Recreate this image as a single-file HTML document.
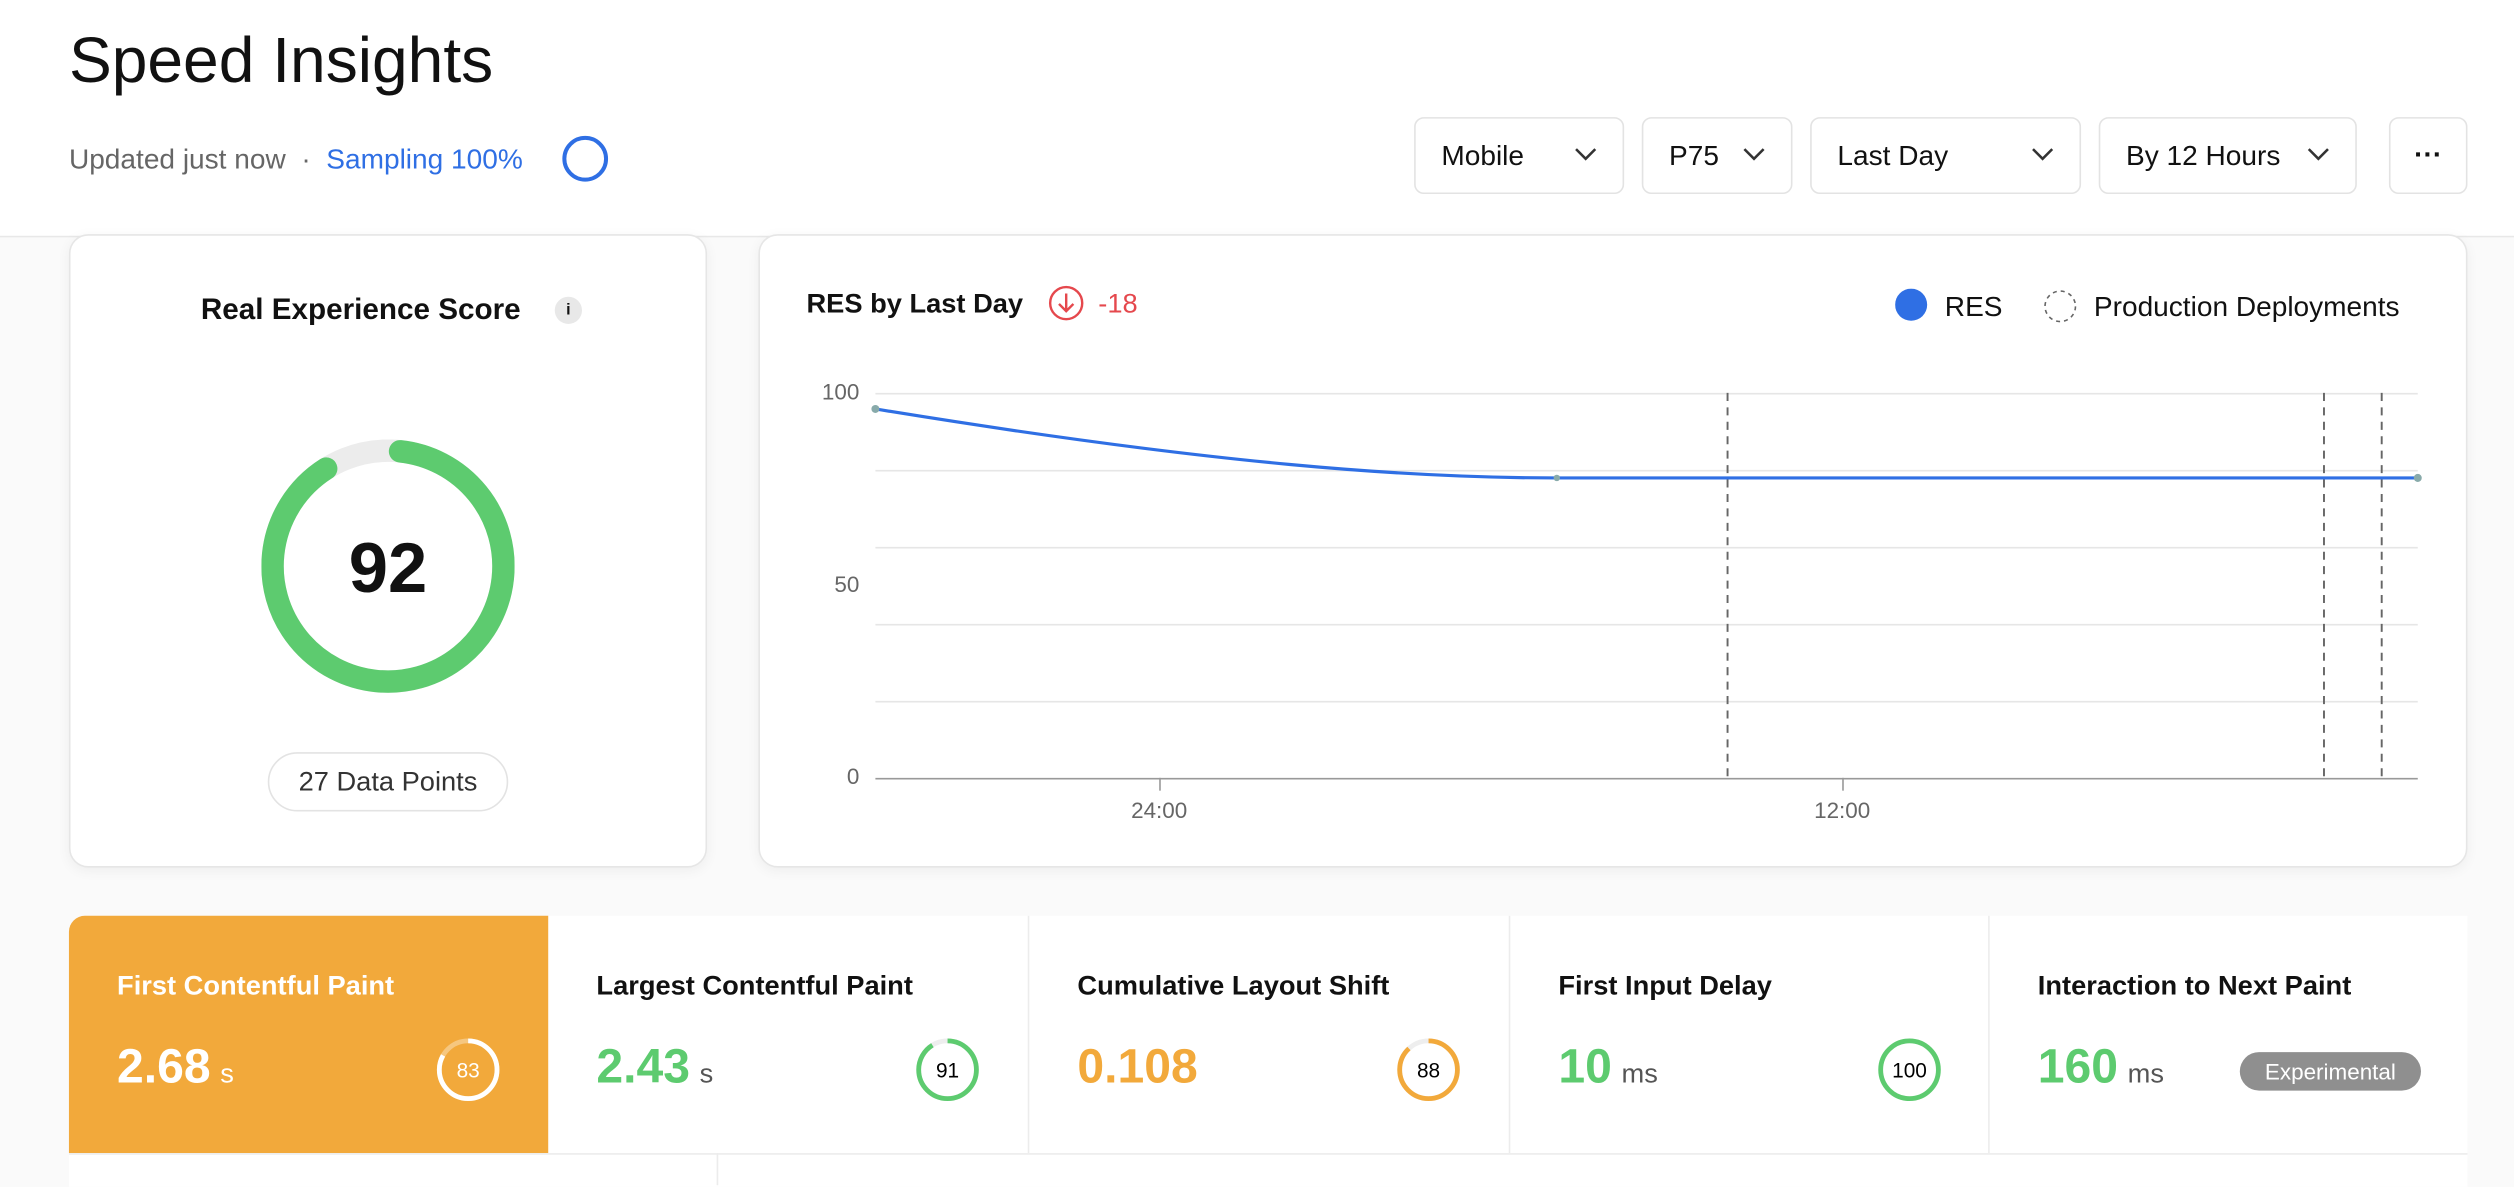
<!DOCTYPE html>
<html><head><meta charset="utf-8"><style>
html,body{margin:0;padding:0;width:2514px;height:1182px;overflow:hidden;background:#fafafa}
#w{position:absolute;left:0;top:0;width:1568px;height:737px;transform:scale(1.6033,1.6038);transform-origin:0 0;font-family:"Liberation Sans",sans-serif;color:#111}
.hdr{position:absolute;left:0;top:0;width:1568px;height:147px;background:#fff;border-bottom:1px solid #e8e8e8}
.abs{position:absolute}
.dd{position:absolute;top:73px;height:48px;border:1px solid #e3e3e3;border-radius:6px;background:#fff;box-sizing:border-box;font-size:17.5px;line-height:46px;padding-left:16px}
.dd svg{position:absolute;right:16px;top:18px}
.card{position:absolute;background:#fff;border:1px solid #e6e6e6;border-radius:12px;box-shadow:0 2px 8px rgba(0,0,0,.05);box-sizing:border-box}
.cell{position:absolute;top:571px;height:148px;width:300px;background:#fff;border-left:1px solid #ececec;box-sizing:border-box}
.cell .t{position:absolute;left:30px;top:34px;font-size:17px;font-weight:bold}
.cell .v{position:absolute;left:30px;top:78px;font-size:30px;font-weight:bold}
.cell .v span{font-size:17px;font-weight:normal;color:#555;margin-left:6px}
.cell svg{position:absolute;left:228px;top:75px}
</style></head><body><div id="w">
<div class="hdr"></div>
<div class="abs" style="left:43px;top:16px;font-size:40px">Speed Insights</div>
<div class="abs" style="left:43px;top:89px;font-size:17.5px;color:#666">Updated just now &nbsp;·&nbsp; <span style="color:#2f6fe4">Sampling 100%</span></div>
<svg class="abs" style="left:350px;top:84px" width="30" height="30"><circle cx="15" cy="15" r="13" fill="none" stroke="#2f6fe4" stroke-width="2.5"/></svg>
<div class="dd" style="left:882px;width:131px">Mobile<svg width="14" height="9"><path d="M1 1l6 6 6-6" fill="none" stroke="#333" stroke-width="1.6"/></svg></div>
<div class="dd" style="left:1024px;width:94px">P75<svg width="14" height="9"><path d="M1 1l6 6 6-6" fill="none" stroke="#333" stroke-width="1.6"/></svg></div>
<div class="dd" style="left:1129px;width:169px">Last Day<svg width="14" height="9"><path d="M1 1l6 6 6-6" fill="none" stroke="#333" stroke-width="1.6"/></svg></div>
<div class="dd" style="left:1309px;width:161px">By 12 Hours<svg width="14" height="9"><path d="M1 1l6 6 6-6" fill="none" stroke="#333" stroke-width="1.6"/></svg></div>
<div class="dd" style="left:1490px;width:49px;padding:0;text-align:center;font-weight:bold;line-height:44px">···</div>

<div class="card" style="left:43px;top:146px;width:398px;height:395px"></div>
<div class="abs" style="left:43px;top:182px;width:364px;text-align:center;font-size:18.5px;font-weight:bold">Real Experience Score</div>
<div class="abs" style="left:346px;top:185px;width:17px;height:17px;border-radius:50%;background:#e8e8e8;font-size:10px;text-align:center;line-height:17px;font-weight:bold">i</div>
<svg class="abs" style="left:163px;top:274px" width="158" height="158">
<circle cx="79" cy="79" r="72" fill="none" stroke="#ececec" stroke-width="14"/>
<circle cx="79" cy="79" r="72" fill="none" stroke="#5dcb6f" stroke-width="14" stroke-linecap="round" stroke-dasharray="404 500" transform="rotate(-84 79 79)"/>
<text x="79" y="95" text-anchor="middle" font-family="Liberation Sans" font-weight="bold" font-size="44" fill="#111">92</text></svg>
<div class="abs" style="left:167px;top:469px;width:150px;height:37px;border:1px solid #e3e3e3;border-radius:19px;box-sizing:border-box;text-align:center;line-height:35px;font-size:17px;color:#333">27 Data Points</div>

<div class="card" style="left:473px;top:146px;width:1066px;height:395px"></div>
<div class="abs" style="left:503px;top:180px;font-size:17px;font-weight:bold">RES by Last Day</div>
<svg class="abs" style="left:654px;top:178px" width="24" height="24"><circle cx="11" cy="11" r="10" fill="none" stroke="#e5484d" stroke-width="1.5"/><path d="M11 5v11M6.5 11.5l4.5 4.5 4.5-4.5" fill="none" stroke="#e5484d" stroke-width="1.5"/></svg>
<div class="abs" style="left:685px;top:180px;font-size:17px;color:#e5484d">-18</div>
<svg class="abs" style="left:1182px;top:180px" width="22" height="22"><circle cx="10" cy="10" r="10" fill="#2f6fe4"/></svg>
<div class="abs" style="left:1213px;top:181px;font-size:17.5px">RES</div>
<svg class="abs" style="left:1274px;top:180px" width="22" height="22"><circle cx="11" cy="11" r="9.5" fill="none" stroke="#666" stroke-dasharray="2.5 2.5"/></svg>
<div class="abs" style="left:1306px;top:181px;font-size:17.5px">Production Deployments</div>
<svg class="abs" style="left:0;top:0" width="1568" height="737" font-family="Liberation Sans">
<g stroke="#e6e6e6" stroke-width="1">
<line x1="546" x2="1508" y1="245.5" y2="245.5"/><line x1="546" x2="1508" y1="293.5" y2="293.5"/><line x1="546" x2="1508" y1="341.5" y2="341.5"/><line x1="546" x2="1508" y1="389.5" y2="389.5"/><line x1="546" x2="1508" y1="437.5" y2="437.5"/>
</g>
<line x1="546" x2="1508" y1="485.5" y2="485.5" stroke="#999"/>
<line x1="723.5" x2="723.5" y1="485" y2="493" stroke="#999"/><line x1="1149.5" x2="1149.5" y1="485" y2="493" stroke="#999"/>
<g fill="#666" font-size="14" text-anchor="end"><text x="536" y="249">100</text><text x="536" y="369">50</text><text x="536" y="489">0</text></g>
<g fill="#666" font-size="14" text-anchor="middle"><text x="723" y="510">24:00</text><text x="1149" y="510">12:00</text></g>
<g stroke="#666" stroke-dasharray="5 4" stroke-width="1.2"><line x1="1077.5" x2="1077.5" y1="245" y2="485"/><line x1="1449.5" x2="1449.5" y1="245" y2="485"/><line x1="1485.5" x2="1485.5" y1="245" y2="485"/></g>
<path d="M546 255 C760 290 880 298 971 298 L1508 298" fill="none" stroke="#2f6fe4" stroke-width="2"/>
<g fill="#8aa"><circle cx="546" cy="255" r="2.5"/><circle cx="971" cy="298" r="2"/><circle cx="1508" cy="298" r="2.5"/></g>
</svg>

<div class="cell" style="left:43px;background:#f2a93b;border:none;width:299px;border-radius:10px 0 0 0"><div class="t" style="color:#fff">First Contentful Paint</div><div class="v" style="color:#fff">2.68<span style="color:#fff">s</span></div>
<svg width="42" height="42"><circle cx="21" cy="21" r="18" fill="none" stroke="rgba(255,255,255,.35)" stroke-width="3"/><circle cx="21" cy="21" r="18" fill="none" stroke="#fff" stroke-width="3" stroke-dasharray="94 200" transform="rotate(-90 21 21)"/><text x="21" y="26" text-anchor="middle" font-size="13" fill="#fff" font-family="Liberation Sans">83</text></svg></div>
<div class="cell" style="left:342px;border-left:none"><div class="t">Largest Contentful Paint</div><div class="v" style="color:#5dcb6f">2.43<span>s</span></div>
<svg width="42" height="42"><circle cx="21" cy="21" r="18" fill="none" stroke="#eee" stroke-width="3"/><circle cx="21" cy="21" r="18" fill="none" stroke="#5dcb6f" stroke-width="3" stroke-dasharray="103 200" transform="rotate(-90 21 21)"/><text x="21" y="26" text-anchor="middle" font-size="13" font-family="Liberation Sans">91</text></svg></div>
<div class="cell" style="left:641px"><div class="t">Cumulative Layout Shift</div><div class="v" style="color:#f2a93b">0.108</div>
<svg width="42" height="42"><circle cx="21" cy="21" r="18" fill="none" stroke="#eee" stroke-width="3"/><circle cx="21" cy="21" r="18" fill="none" stroke="#f2a93b" stroke-width="3" stroke-dasharray="99.5 200" transform="rotate(-90 21 21)"/><text x="21" y="26" text-anchor="middle" font-size="13" font-family="Liberation Sans">88</text></svg></div>
<div class="cell" style="left:941px"><div class="t">First Input Delay</div><div class="v" style="color:#5dcb6f">10<span>ms</span></div>
<svg width="42" height="42"><circle cx="21" cy="21" r="18" fill="none" stroke="#5dcb6f" stroke-width="3"/><text x="21" y="26" text-anchor="middle" font-size="13" font-family="Liberation Sans">100</text></svg></div>
<div class="cell" style="left:1240px;width:299px"><div class="t">Interaction to Next Paint</div><div class="v" style="color:#5dcb6f">160<span>ms</span></div>
<div class="abs" style="left:156px;top:85px;width:113px;height:24px;border-radius:12px;background:#8f8f8f;color:#fff;font-size:14px;text-align:center;line-height:24px">Experimental</div></div>
<div class="abs" style="left:43px;top:719px;width:1496px;height:20px;background:#fff;border-top:1px solid #ececec"></div>
<div class="abs" style="left:447px;top:719px;width:1px;height:20px;background:#ececec"></div>
</div></body></html>
